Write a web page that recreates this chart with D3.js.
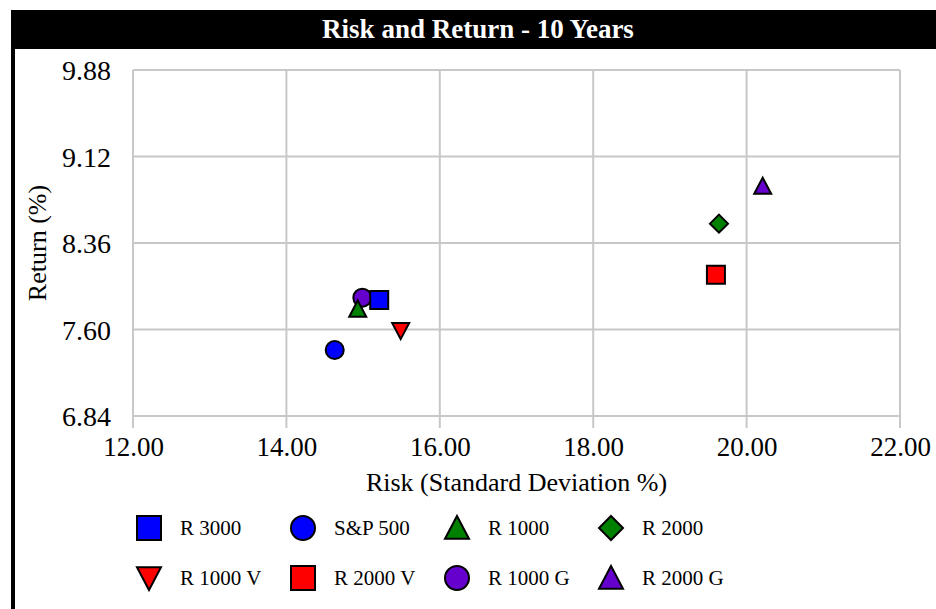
<!DOCTYPE html>
<html><head><meta charset="utf-8">
<script src="https://cdn.jsdelivr.net/npm/d3@7"></script>
<style>body{margin:0;background:#fff}svg{display:block}</style>
</head><body>
<svg id="c" width="936" height="609"></svg>
<script>
const names = ["R 3000","S&P 500","R 1000","R 2000","R 1000 V","R 2000 V","R 1000 G","R 2000 G"];
const risk  = [15.21, 14.63, 14.93, 19.64, 15.49, 19.60, 14.99, 20.21];
const ret   = [7.86, 7.42, 7.78, 8.53, 7.59, 8.08, 7.88, 8.86];
const shapes = ["square","circle","triangle","diamond","triangleDown","square","circle","triangle"];
const colors = ["#0000ff","#0000ff","#008000","#008000","#ff0000","#ff0000","#6600cc","#6600cc"];
const xTicks = [12,14,16,18,20,22];
const yTicks = [6.84,7.60,8.36,9.12,9.88];

const svg = d3.select("#c");
const font = "'Liberation Serif','Times New Roman',serif";
const L=133, R=900, T=70, B=416;
const x = d3.scaleLinear().domain([12,22]).range([L,R]);
const y = d3.scaleLinear().domain([6.84,9.88]).range([B,T]);

// frame
svg.append("rect").attr("x",11).attr("y",10).attr("width",925).attr("height",39).attr("fill","#000");
svg.append("rect").attr("x",11).attr("y",49).attr("width",4).attr("height",560).attr("fill","#000");
svg.append("text").attr("x",478).attr("y",38).attr("text-anchor","middle")
  .attr("font-family",font).attr("font-weight","bold").attr("font-size",27).attr("fill","#fff")
  .text("Risk and Return - 10 Years");

// grid
const g = svg.append("g");
g.selectAll("line.v").data(xTicks).join("line")
  .attr("x1",d=>x(d)).attr("x2",d=>x(d)).attr("y1",T).attr("y2",B+12)
  .attr("stroke","#c8c8c8").attr("stroke-width",2);
g.selectAll("line.h").data(yTicks).join("line")
  .attr("x1",L).attr("x2",R).attr("y1",d=>y(d)).attr("y2",d=>y(d))
  .attr("stroke","#c8c8c8").attr("stroke-width",2);

// axes
const xAxis = d3.axisBottom(x).tickValues(xTicks).tickFormat(d3.format(".2f")).tickSize(0).tickPadding(0);
const ax = svg.append("g").attr("transform",`translate(0,${B+20})`).call(xAxis);
ax.select(".domain").remove();
ax.selectAll("text").attr("font-family",font).attr("font-size",27).attr("fill","#000").attr("dy","0.75em");
const yAxis = d3.axisLeft(y).tickValues(yTicks).tickFormat(d3.format(".2f")).tickSize(0).tickPadding(0);
const ay = svg.append("g").attr("transform",`translate(${L-22},0)`).call(yAxis);
ay.select(".domain").remove();
ay.selectAll("text").attr("font-family",font).attr("font-size",28).attr("fill","#000").attr("dy","0.35em");

svg.append("text").attr("x",(L+R)/2).attr("y",491).attr("text-anchor","middle")
  .attr("font-family",font).attr("font-size",26).text("Risk (Standard Deviation %)");
svg.append("text").attr("transform",`translate(46,${(T+B)/2}) rotate(-90)`).attr("text-anchor","middle")
  .attr("font-family",font).attr("font-size",26).text("Return (%)");

function shapePath(s, w){
  const h=w/2;
  if(s==="square") return `M${-h},${-h}H${h}V${h}H${-h}Z`;
  if(s==="circle") return d3.arc()({innerRadius:0,outerRadius:h,startAngle:0,endAngle:2*Math.PI});
  if(s==="triangle") return `M0,${-h}L${h},${h*0.9}L${-h},${h*0.9}Z`;
  if(s==="triangleDown") return `M0,${h}L${h},${-h*0.9}L${-h},${-h*0.9}Z`;
  if(s==="diamond") return `M0,${-h}L${h},0L0,${h}L${-h},0Z`;
}

const idx = d3.range(names.length).reverse();
svg.append("g").selectAll("path").data(idx).join("path")
  .attr("transform",i=>`translate(${x(risk[i])},${y(ret[i])})`)
  .attr("d",i=>shapePath(shapes[i], shapes[i]==="triangle"||shapes[i]==="triangleDown"?17:18))
  .attr("fill",i=>colors[i]).attr("stroke","#000").attr("stroke-width",2);

// legend
const lg = svg.append("g");
const items = lg.selectAll("g").data(d3.range(names.length)).join("g")
  .attr("transform",i=>`translate(${149+(i%4)*154},${528+Math.floor(i/4)*50})`);
items.append("path").attr("d",i=>shapePath(shapes[i],24))
  .attr("fill",i=>colors[i]).attr("stroke","#000").attr("stroke-width",2);
items.append("text").attr("x",31).attr("dy","0.35em").attr("font-family",font).attr("font-size",21)
  .text(i=>names[i]);
</script>
</body></html>
